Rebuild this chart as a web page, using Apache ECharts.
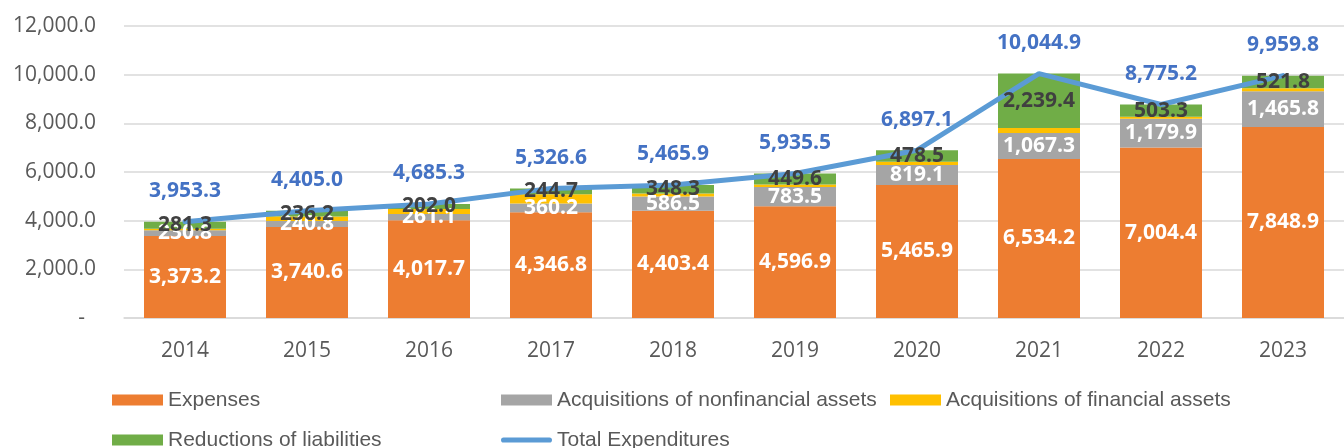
<!DOCTYPE html>
<html>
<head>
<meta charset="utf-8">
<script src="https://cdn.jsdelivr.net/npm/echarts@6/dist/echarts.min.js"></script>
<style>
  html, body { margin: 0; padding: 0; background: #fff; }
  #chart { width: 1344px; height: 448px; }
</style>
</head>
<body>
<div id="chart"></div>
<script>
var years = ['2014', '2015', '2016', '2017', '2018', '2019', '2020', '2021', '2022', '2023'];
var expenses = [3373.2, 3740.6, 4017.7, 4346.8, 4403.4, 4596.9, 5465.9, 6534.2, 7004.4, 7848.9];
var nonfinancial = [230.8, 240.8, 261.1, 360.2, 586.5, 783.5, 819.1, 1067.3, 1179.9, 1465.8];
var financial = [68.0, 187.4, 204.5, 374.9, 127.7, 105.5, 133.6, 204.0, 87.6, 123.3];
var liabilities = [281.3, 236.2, 202.0, 244.7, 348.3, 449.6, 478.5, 2239.4, 503.3, 521.8];
var totals = [3953.3, 4405.0, 4685.3, 5326.6, 5465.9, 5935.5, 6897.1, 10044.9, 8775.2, 9959.8];

var FONT = '"Open Sans", "Noto Sans", sans-serif';
var LEGEND_FONT = '"Liberation Sans", Arial, sans-serif';

function fmt(v) {
    return Number(v).toLocaleString('en-US', { minimumFractionDigits: 1, maximumFractionDigits: 1 });
}

var chart = echarts.init(document.getElementById('chart'));

// coloured bars, no labels (labels go on the overlay so they sit above the line)
function barSeries(name, data, color) {
    return {
        name: name,
        type: 'bar',
        stack: 'total',
        barWidth: 82,
        data: data,
        itemStyle: { color: color },
        z: 2
    };
}

// transparent twin of a bar series that only carries the data labels
function labelSeries(name, data, labelColor) {
    return {
        name: name + ' (label)',
        type: 'bar',
        stack: 'labels',
        barWidth: 82,
        barGap: '-100%',
        data: data,
        silent: true,
        itemStyle: { color: 'rgba(0,0,0,0)' },
        z: 4,
        label: {
            show: !!labelColor,
            position: 'inside',
            color: labelColor,
            fontFamily: FONT,
            fontWeight: 'bold',
            fontSize: 21,
            formatter: function (p) { return fmt(p.value); }
        }
    };
}

var legendText = { color: '#595959', fontSize: 21, fontFamily: LEGEND_FONT, width: 330, lineHeight: 24 };

var option = {
    backgroundColor: '#fff',
    animation: false,
    textStyle: { fontFamily: FONT },
    grid: { left: 124, right: -12, top: 26, bottom: 130 },
    legend: [{
        left: 107,
        top: 383,
        itemWidth: 51,
        itemHeight: 11,
        itemGap: 3,
        icon: 'rect',
        data: ['Expenses', 'Acquisitions of nonfinancial assets', 'Acquisitions of financial assets'],
        textStyle: legendText
    }, {
        left: 107,
        top: 423,
        itemWidth: 51,
        itemHeight: 11,
        itemGap: 3,
        data: [
            { name: 'Reductions of liabilities', icon: 'rect' },
            { name: 'Total Expenditures', icon: 'path://M3,0 L57,0 A3,3 0 0 1 57,6 L3,6 A3,3 0 0 1 3,0 Z' }
        ],
        textStyle: legendText
    }],
    xAxis: {
        type: 'category',
        data: years,
        axisTick: { show: false },
        axisLine: { lineStyle: { color: '#d9d9d9', width: 1.5 } },
        axisLabel: { color: '#595959', fontSize: 21, fontFamily: FONT, margin: 23 }
    },
    yAxis: {
        type: 'value',
        min: 0,
        max: 12000,
        interval: 2000,
        axisLine: { show: false },
        axisTick: { show: false },
        splitLine: { lineStyle: { color: '#d9d9d9', width: 1.5 } },
        axisLabel: {
            color: '#595959',
            fontSize: 21,
            fontFamily: FONT,
            margin: 28,
            formatter: function (v) { return v === 0 ? '-  ' : fmt(v); }
        }
    },
    series: [
        barSeries('Expenses', expenses, '#ED7D31'),
        barSeries('Acquisitions of nonfinancial assets', nonfinancial, '#A5A5A5'),
        barSeries('Acquisitions of financial assets', financial, '#FFC000'),
        barSeries('Reductions of liabilities', liabilities, '#70AD47'),
        labelSeries('Expenses', expenses, '#ffffff'),
        labelSeries('Acquisitions of nonfinancial assets', nonfinancial, '#ffffff'),
        labelSeries('Acquisitions of financial assets', financial, null),
        labelSeries('Reductions of liabilities', liabilities, '#404040'),
        {
            name: 'Total Expenditures',
            type: 'line',
            data: totals,
            symbol: 'circle',
            symbolSize: 2,
            showSymbol: true,
            z: 3,
            lineStyle: { color: '#5B9BD5', width: 5, cap: 'round' },
            itemStyle: { color: '#5B9BD5' },
            label: {
                show: true,
                position: 'top',
                distance: 19,
                color: '#4472C4',
                fontFamily: FONT,
                fontWeight: 'bold',
                fontSize: 21,
                formatter: function (p) { return fmt(p.value); }
            }
        }
    ]
};

chart.setOption(option);
</script>
</body>
</html>
